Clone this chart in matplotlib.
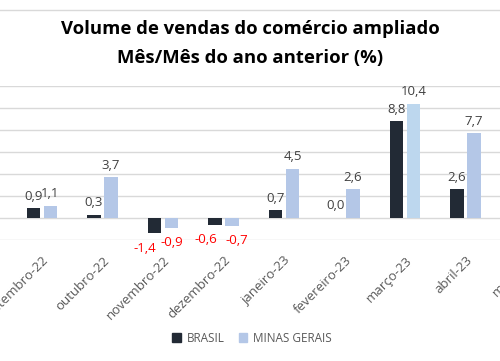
import numpy as np
import matplotlib.pyplot as plt
from matplotlib.lines import Line2D
from matplotlib.patches import Patch

# dados (variação % mês / mesmo mês do ano anterior)
meses = ["setembro-22", "outubro-22", "novembro-22", "dezembro-22", "janeiro-23",
         "fevereiro-23", "março-23", "abril-23", "maio-23"]
brasil = [0.9, 0.3, -1.4, -0.6, 0.7, 0.0, 8.8, 2.6, np.nan]
minas = [1.1, 3.7, -0.9, -0.7, 4.5, 2.6, 10.4, 7.7, np.nan]

plt.rcParams['font.family'] = ['Open Sans', 'DejaVu Sans']

cor_br = "#222a35"
cor_mg = "#b4c7e7"
cor_mg_destaque = "#bdd7ee"

# deslocamentos manuais de rótulos (pixels), como no original
ajuste_br = {"novembro-22": -10, "dezembro-22": -9}
ajuste_mg = {"dezembro-22": 5}

fig = plt.figure(figsize=(5, 3.61), dpi=100)
W, H = 500, 361

# eixo maior que a figura (gráfico original foi recortado)
x0_px, passo = 42, 60.5
xmin, xmax = -0.7, 8.5
left = (x0_px + xmin * passo) / W
width = (xmax - xmin) * passo / W
ax = fig.add_axes([left, 121 / H, width, 154 / H])

x = np.arange(len(meses))
larg = 0.22
off = 0.14
cores_mg = [cor_mg_destaque if m == "março-23" else cor_mg for m in meses]
b1 = ax.bar(x - off, brasil, larg, color=cor_br, zorder=3)
b2 = ax.bar(x + off, minas, larg, color=cores_mg, zorder=3)

for barras, ajuste in ((b1, ajuste_br), (b2, ajuste_mg)):
    for rect, v, m in zip(barras, barras.datavalues, meses):
        if np.isnan(v):
            continue
        cx = rect.get_x() + rect.get_width() / 2
        dx = ajuste.get(m, 0) * 72 / 100
        txt = f"{v:.1f}".replace(".", ",")
        if v < 0:
            ax.annotate(txt, (cx, v), xytext=(dx, -6), textcoords="offset points",
                        ha="center", va="top", color="#ff0000", fontsize=9.5)
        else:
            ax.annotate(txt, (cx, v), xytext=(dx, 4), textcoords="offset points",
                        ha="center", va="bottom", color="#404040", fontsize=9.5)

ax.set_xlim(xmin, xmax)
ax.set_ylim(-2, 12)
ax.set_yticks(np.arange(-2, 13, 2))
ax.yaxis.grid(True, color="#d9d9d9", linewidth=1, zorder=0)
ax.set_yticklabels([])
ax.tick_params(axis="y", length=0)
ax.set_xticks(x)
ax.set_xticklabels(meses, rotation=45, ha="right", rotation_mode="anchor",
                   color="#595959", fontsize=9.5)
ax.tick_params(axis="x", length=0, pad=10)
for s in ax.spines.values():
    s.set_visible(False)

fig.text(0.5, 1 - 29 / H, "Volume de vendas do comércio ampliado",
         ha="center", va="center", fontsize=13.3, fontweight="bold", color="#000000")
fig.text(0.5, 1 - 58 / H, "Mês/Mês do ano anterior (%)",
         ha="center", va="center", fontsize=13.3, fontweight="bold", color="#000000")

# borda superior da área do gráfico
fig.add_artist(Line2D([0, 1], [1 - 10 / H] * 2, color="#d9d9d9", linewidth=1))

handles = [Patch(color=cor_br, label="BRASIL"), Patch(color=cor_mg, label="MINAS GERAIS")]
fig.legend(handles=handles, loc="center", bbox_to_anchor=(0.504, 1 - 338 / H), ncol=2,
           frameon=False, fontsize=8.5, labelcolor="#595959", handlelength=0.7,
           handleheight=0.7, handletextpad=0.5, columnspacing=1.2)

fig.savefig("out.png", dpi=100)
